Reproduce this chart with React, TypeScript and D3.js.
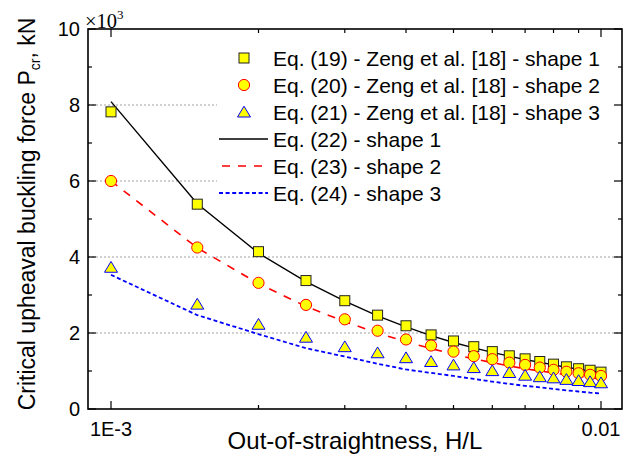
import React, { useEffect } from 'react';
import * as d3 from 'd3';

// out-of-straightness values H/L
const ratios = [0.001, 0.0015, 0.002, 0.0025, 0.003, 0.0035, 0.004, 0.0045, 0.005, 0.0055,
  0.006, 0.0065, 0.007, 0.0075, 0.008, 0.0085, 0.009, 0.0095, 0.01];

// Zeng et al. points (x10^3 kN)
const zeng1 = [7.82, 5.39, 4.14, 3.38, 2.85, 2.47, 2.19, 1.95, 1.79, 1.64, 1.51, 1.40, 1.32, 1.25, 1.18, 1.11, 1.06, 1.02, 0.97];
const zeng2 = [6.0, 4.25, 3.32, 2.74, 2.36, 2.06, 1.83, 1.67, 1.51, 1.39, 1.31, 1.22, 1.16, 1.09, 1.03, 0.98, 0.94, 0.90, 0.87];
const zeng3 = [3.73, 2.76, 2.23, 1.89, 1.64, 1.48, 1.35, 1.25, 1.16, 1.09, 1.01, 0.96, 0.89, 0.85, 0.82, 0.78, 0.75, 0.72, 0.69];

// present equations (curves)
const eq22 = [8.09, 5.40, 4.10, 3.35, 2.84, 2.45, 2.16, 1.93, 1.75, 1.61, 1.49, 1.39, 1.30, 1.23, 1.16, 1.10, 1.05, 1.00, 0.96];
const eq23 = [6.0, 4.24, 3.30, 2.70, 2.30, 2.00, 1.77, 1.59, 1.44, 1.32, 1.22, 1.13, 1.06, 1.00, 0.95, 0.90, 0.86, 0.82, 0.79];
const eq24 = [3.53, 2.47, 1.97, 1.60, 1.38, 1.19, 1.04, 0.95, 0.87, 0.79, 0.72, 0.66, 0.61, 0.57, 0.53, 0.49, 0.46, 0.43, 0.41];

const legendLabels = [
  'Eq. (19) - Zeng et al. [18] - shape 1',
  'Eq. (20) - Zeng et al. [18] - shape 2',
  'Eq. (21) - Zeng et al. [18] - shape 3',
  'Eq. (22) - shape 1',
  'Eq. (23) - shape 2',
  'Eq. (24) - shape 3',
];

const xMajor = [0.001, 0.01];
const xMajorLabels = ['1E-3', '0.01'];
const xMinor = [0.002, 0.003, 0.004, 0.005, 0.006, 0.007, 0.008, 0.009];
const yMajor = [0, 2, 4, 6, 8, 10];
const yMinor = [1, 3, 5, 7, 9];
const yGrid = [2, 4, 6, 8];

const W = 633;
const H = 461;
const left = 88, right = 622, top = 29, bottom = 409;
const font = "'Liberation Sans', Arial, sans-serif";

export default function App() {
  useEffect(() => {
    document.body.style.margin = '0';
  }, []);

  const x = d3.scaleLog().domain([0.001, 0.01]).range([111, 601]);
  const y = d3.scaleLinear().domain([0, 10]).range([bottom, top]);

  const line = (vals: number[]) =>
    d3.line<number>().x((_, i) => x(ratios[i])).y(d => y(d))(vals) || '';

  const square = (cx: number, cy: number, k: string) => (
    <rect key={k} x={cx - 5} y={cy - 5} width={10} height={10} fill="#ffff00" stroke="#222" strokeWidth={1} />
  );
  const circle = (cx: number, cy: number, k: string) => (
    <circle key={k} cx={cx} cy={cy} r={5.6} fill="#ffff00" stroke="#ff0000" strokeWidth={1} />
  );
  const tri = (cx: number, cy: number, k: string) => (
    <path key={k} d={`M${cx},${cy - 5.8}L${cx + 6.5},${cy + 5}L${cx - 6.5},${cy + 5}Z`} fill="#ffff00" stroke="#0000ff" strokeWidth={1} />
  );

  const rows = legendLabels.map((_, i) => 58 + 27 * i);
  const tickCol = '#000';

  return (
    <svg width={W} height={H} style={{ display: 'block', background: '#fff' }}>
      {/* grid */}
      {yGrid.map(v => (
        <line key={'g' + v} x1={left} x2={right} y1={y(v)} y2={y(v)} stroke="#a0a0a0" strokeWidth={1} strokeDasharray="2,2" />
      ))}
      {/* legend background */}
      <rect x={217} y={36} width={right - 217 - 1} height={170} fill="#fff" />

      {/* curves */}
      <path d={line(eq22)} fill="none" stroke="#000" strokeWidth={1.4} />
      <path d={line(eq23)} fill="none" stroke="#ff0000" strokeWidth={1.6} strokeDasharray="8,8" />
      <path d={line(eq24)} fill="none" stroke="#0000ff" strokeWidth={1.8} strokeDasharray="4,2.6" />

      {/* markers */}
      {zeng1.map((v, i) => square(x(ratios[i]), y(v), 's' + i))}
      {zeng2.map((v, i) => circle(x(ratios[i]), y(v), 'c' + i))}
      {zeng3.map((v, i) => tri(x(ratios[i]), y(v), 't' + i))}

      {/* frame */}
      <rect x={left} y={top} width={right - left} height={bottom - top} fill="none" stroke="#000" strokeWidth={1.6} />

      {/* x ticks */}
      {xMajor.map(v => (
        <g key={'xm' + v}>
          <line x1={x(v)} x2={x(v)} y1={bottom} y2={bottom - 8} stroke={tickCol} strokeWidth={1.2} />
          <line x1={x(v)} x2={x(v)} y1={top} y2={top + 8} stroke={tickCol} strokeWidth={1.2} />
        </g>
      ))}
      {xMinor.map(v => (
        <g key={'xn' + v}>
          <line x1={x(v)} x2={x(v)} y1={bottom} y2={bottom - 4} stroke={tickCol} strokeWidth={1.2} />
          <line x1={x(v)} x2={x(v)} y1={top} y2={top + 4} stroke={tickCol} strokeWidth={1.2} />
        </g>
      ))}
      {xMajor.map((v, i) => (
        <text key={'xl' + v} x={x(v)} y={436} textAnchor="middle" fontFamily={font} fontSize={20}>{xMajorLabels[i]}</text>
      ))}

      {/* y ticks */}
      {yMajor.map(v => (
        <g key={'ym' + v}>
          <line x1={left} x2={left + 8} y1={y(v)} y2={y(v)} stroke={tickCol} strokeWidth={1.2} />
          <line x1={right} x2={right - 8} y1={y(v)} y2={y(v)} stroke={tickCol} strokeWidth={1.2} />
          <text x={80} y={y(v) + 7} textAnchor="end" fontFamily={font} fontSize={20}>{v}</text>
        </g>
      ))}
      {yMinor.map(v => (
        <g key={'yn' + v}>
          <line x1={left} x2={left + 4} y1={y(v)} y2={y(v)} stroke={tickCol} strokeWidth={1.2} />
          <line x1={right} x2={right - 4} y1={y(v)} y2={y(v)} stroke={tickCol} strokeWidth={1.2} />
        </g>
      ))}

      {/* multiplier */}
      <text x={85} y={28} fontFamily="'Liberation Serif', 'Times New Roman', serif" fontSize={20.5}>
        ×10<tspan dy={-9} fontSize={13}>3</tspan>
      </text>

      {/* axis titles */}
      <text x={(left + right) / 2} y={449} textAnchor="middle" fontFamily={font} fontSize={24}>Out-of-straightness, H/L</text>
      <text transform={`translate(35,${(top + bottom) / 2 - 5}) rotate(-90)`} textAnchor="middle" fontFamily={font} fontSize={23}>
        Critical upheaval buckling force P<tspan dy={5} fontSize={14}>cr</tspan><tspan dy={-5}>, kN</tspan>
      </text>

      {/* legend */}
      {square(244, rows[0], 'ls')}
      {circle(244, rows[1], 'lc')}
      {tri(244, rows[2], 'lt')}
      <line x1={219} x2={268} y1={rows[3]} y2={rows[3]} stroke="#000" strokeWidth={1.4} />
      <line x1={219} x2={268} y1={rows[4]} y2={rows[4]} stroke="#ff0000" strokeWidth={1.6} strokeDasharray="8,8" strokeDashoffset={-3} />
      <line x1={219} x2={268} y1={rows[5]} y2={rows[5]} stroke="#0000ff" strokeWidth={1.8} strokeDasharray="4,2.6" />
      {legendLabels.map((t, i) => (
        <text key={'lg' + i} x={273} y={rows[i] + 7.5} fontFamily={font} fontSize={21}>{t}</text>
      ))}
    </svg>
  );
}
